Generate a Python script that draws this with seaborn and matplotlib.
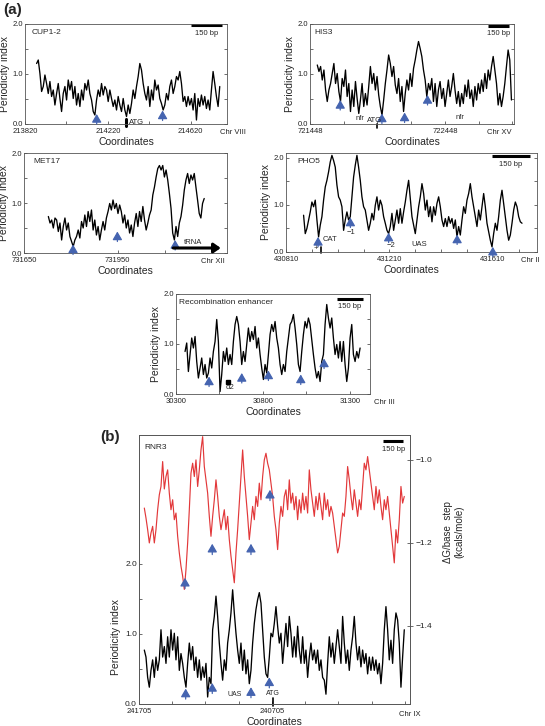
"""
Periodicity index profiles across yeast promoter regions, panels (a) and (b)
"""

import numpy as np
import seaborn as sns
import matplotlib.pyplot as plt

# ---------------- data ----------------
# CUP1-2, Chr VIII
cup_start, cup_end = 213876, 214760
cup_y = [1.21, 1.28, 1.01, 0.65, 0.75, 0.98, 0.81, 0.61, 0.85, 0.55, 0.68, 0.38, 0.61, 0.81, 0.51,
         0.25, 0.61, 0.75, 0.48, 0.88, 0.68, 0.85, 0.51, 0.75, 0.38, 0.61, 0.35, 0.68, 0.48, 0.81,
         0.68, 0.88, 0.61, 0.48, 0.25, 0.18, 0.48, 0.68, 0.55, 0.81, 0.58, 0.75, 0.68, 0.45, 0.68,
         0.51, 0.35, 0.48, 0.28, 0.55, 0.38, 0.25, 0.51, 0.28, 0.15, 0.38, 0.21, 0.41, 0.68, 0.51,
         0.75, 0.95, 1.21, 1.08, 0.81, 0.61, 0.48, 0.75, 0.35, 0.68, 0.48, 0.88, 0.68, 0.78, 0.51,
         0.41, 0.28, 0.38, 0.61, 0.48, 0.75, 0.88, 0.61, 0.75, 0.95, 0.88, 1.05, 0.81, 0.45, 0.55,
         0.35, 0.55, 0.38, 0.51, 0.28, 0.61, 0.08, 0.51, 0.35, 0.58, 0.38, 0.55, 0.31, 0.48, 0.28,
         0.68, 1.05, 0.81, 0.55, 0.35, 0.75]
cup_arrow_x = [214166, 214484]
cup_arrow_tip = [0.20, 0.27]

# HIS3, Chr XV
his_start, his_end = 721502, 722941
his_y = [1.18, 1.05, 1.15, 0.88, 1.08, 0.68, 0.45, 0.68, 0.81, 1.01, 1.21, 0.81, 1.01, 0.65, 0.45,
         0.91, 0.75, 1.08, 0.55, 0.81, 0.25, 0.68, 0.35, 0.85, 0.51, 0.21, 0.48, 0.81, 0.35, 0.61,
         0.38, 0.75, 1.15, 0.81, 1.01, 0.68, 0.95, 0.58, 0.35, 0.18, 0.48, 0.81, 1.08, 1.38, 1.21,
         0.95, 1.15, 0.78, 0.61, 0.91, 0.45, 0.75, 0.25, 0.61, 0.88, 0.68, 1.01, 0.75, 1.11, 1.28,
         1.48, 1.65, 1.51, 1.35, 1.08, 0.88, 0.55, 0.81, 0.68, 0.91, 0.45, 0.81, 0.35, 0.68, 0.85,
         0.51, 0.71, 0.35, 0.61, 0.88, 0.55, 0.75, 1.01, 0.68, 0.41, 0.65, 0.35, 0.61, 0.41, 0.78,
         0.55, 0.88, 0.51, 0.68, 0.35, 0.75, 0.48, 0.81, 0.61, 0.88, 0.65, 1.01, 0.71, 1.08, 0.88,
         1.15, 1.35, 1.08, 0.81, 0.38, 0.61, 0.35, 0.55, 0.81, 1.15, 1.48, 1.28, 0.48]
his_arrow_x = [721672, 721981, 722149, 722319]
his_arrow_tip = [0.48, 0.21, 0.23, 0.58]

# MET17, Chr XII
met_start, met_end = 731728, 732227
met_y = [0.73, 0.60, 0.66, 0.50, 0.70, 0.66, 0.43, 0.60, 0.26, 0.53, 0.70, 0.46, 0.60, 0.33, 0.23,
         0.13, 0.26, 0.33, 0.46, 0.30, 0.63, 0.50, 0.76, 0.53, 0.83, 0.63, 0.86, 0.46, 0.66, 0.36,
         0.53, 0.26, 0.46, 0.63, 0.46, 0.70, 0.83, 0.99, 0.86, 1.06, 0.89, 0.99, 0.79, 0.96, 0.83,
         0.60, 0.76, 0.50, 0.66, 0.40, 0.56, 0.33, 0.60, 0.79, 0.53, 0.83, 0.63, 0.93, 0.66, 0.46,
         0.60, 0.76, 0.86, 1.16, 1.32, 1.52, 1.69, 1.75, 1.66, 1.75, 1.52, 1.66, 1.46, 1.19, 0.89,
         0.40, 0.26, 0.53, 0.33, 0.60, 0.73, 0.96, 1.26, 1.46, 1.59, 1.39, 1.56, 1.46, 1.59, 1.32,
         1.06, 0.79, 0.70, 0.99, 1.09]
met_arrow_x = [731807, 731949, 732134]
met_arrow_tip = [0.17, 0.43, 0.26]

# PHO5, Chr II
pho_start, pho_end = 430878, 431723
pho_y = [0.78, 0.39, 0.50, 0.68, 0.85, 1.06, 0.96, 1.10, 0.68, 0.32, 0.57, 0.75, 1.10, 1.38, 1.52,
         1.70, 1.91, 2.05, 1.94, 1.80, 1.42, 1.17, 1.10, 0.96, 0.46, 0.68, 0.85, 0.68, 0.75, 1.17,
         1.59, 1.84, 2.05, 1.80, 1.52, 1.17, 0.96, 0.89, 0.68, 0.46, 0.61, 0.82, 0.68, 0.99, 1.17,
         0.89, 1.10, 0.99, 0.75, 0.61, 0.46, 0.39, 0.54, 0.82, 0.46, 0.68, 0.89, 0.61, 0.92, 0.61,
         0.85, 1.06, 1.31, 1.52, 1.13, 0.75, 0.57, 0.39, 0.68, 0.96, 1.17, 1.45, 1.24, 0.89, 1.10,
         0.75, 0.96, 0.64, 0.96, 0.78, 1.03, 1.17, 0.96, 0.68, 0.54, 0.71, 0.54, 0.75, 0.61, 0.71,
         0.50, 0.68, 0.32, 0.54, 0.36, 0.68, 0.96, 0.82, 1.10, 1.24, 1.45, 1.17, 0.96, 0.75, 0.54,
         0.89, 0.68, 0.96, 1.24, 0.96, 0.61, 0.43, 0.25, 0.11, 0.39, 0.61, 0.46, 0.75, 1.10, 1.31,
         1.03, 0.75, 0.46, 0.25, 0.36, 0.61, 0.89, 1.06, 0.96, 0.75, 0.64, 0.61]
pho_arrow_x = [430934, 431059, 431207, 431472, 431610]
pho_arrow_tip = [0.32, 0.73, 0.41, 0.37, 0.11]

# Recombination enhancer, Chr III
re_start, re_end = 30352, 31358
re_y = [0.85, 1.02, 0.45, 0.79, 1.12, 0.92, 1.15, 0.65, 0.32, 0.52, 0.72, 0.39, 0.59, 0.32, 0.42,
        0.72, 0.52, 0.85, 1.05, 1.49, 1.05, 0.05, 0.39, 0.85, 0.65, 0.92, 0.59, 0.79, 0.59, 1.05,
        1.39, 1.55, 1.39, 1.05, 0.59, 0.85, 0.65, 0.99, 1.32, 1.05, 1.25, 1.09, 1.35, 0.92, 1.12,
        0.79, 0.52, 0.29, 0.59, 0.42, 0.79, 1.19, 1.39, 1.25, 1.45, 1.12, 0.92, 0.59, 0.39, 0.59,
        0.45, 0.85, 1.12, 1.39, 1.45, 1.59, 1.32, 0.99, 0.59, 0.45, 0.85, 1.19, 1.45, 1.32, 1.52,
        1.39, 1.09, 0.79, 0.52, 0.32, 0.45, 0.25, 0.65, 0.79, 1.39, 1.79, 1.52, 1.32, 1.52, 1.12,
        0.79, 0.99, 0.72, 1.05, 0.65, 1.05, 0.59, 0.25, 0.52, 1.12, 1.39, 0.79, 0.65, 0.85, 0.72,
        0.92]
re_arrow_x = [30490, 30678, 30831, 31017, 31151]
re_arrow_tip = [0.35, 0.42, 0.47, 0.39, 0.71]

# RNR3, Chr IX (coordinates run right to left)
rnr_start, rnr_end = 241665, 239710
rnr_dg = [-1.116, -1.14, -1.168, -1.20, -1.176, -1.16, -1.20, -1.168, -1.12, -1.084, -1.064, -1.004,
          -1.07, -1.04, -1.024, -1.08, -1.12, -1.096, -1.144, -1.128, -1.184, -1.224, -1.256, -1.28,
          -1.312, -1.264, -1.20, -1.12, -1.032, -1.008, -1.04, -1.0, -1.064, -1.024, -0.976, -0.944,
          -1.016, -1.048, -1.08, -1.136, -1.184, -1.136, -1.096, -1.048, -1.088, -1.136, -1.168,
          -1.144, -1.12, -1.168, -1.136, -1.192, -1.232, -1.264, -1.296, -1.224, -1.168, -1.104,
          -1.04, -0.976, -1.04, -1.088, -1.136, -1.192, -1.152, -1.112, -1.144, -1.088, -1.112,
          -1.056, -1.096, -1.04, -1.0, -0.984, -1.008, -1.024, -1.056, -1.088, -1.136, -1.168,
          -1.216, -1.152, -1.112, -1.136, -1.088, -1.072, -1.12, -1.048, -1.104, -1.08, -1.12,
          -1.088, -1.144, -1.096, -1.128, -1.08, -1.12, -1.088, -1.128, -1.024, -1.072, -1.104,
          -1.136, -1.088, -1.12, -1.08, -1.112, -1.144, -1.08, -1.12, -1.096, -1.136, -1.112,
          -1.128, -1.16, -1.192, -1.224, -1.208, -1.168, -1.128, -1.136, -1.088, -1.016, -1.048,
          -1.088, -1.12, -1.072, -1.104, -1.136, -1.096, -1.12, -1.064, -1.008, -1.024, -0.992,
          -1.024, -1.056, -1.088, -1.12, -1.064, -1.104, -1.072, -1.112, -1.144, -1.096, -1.12,
          -1.088, -1.128, -1.168, -1.208, -1.248, -1.168, -1.20, -1.144, -1.064, -1.104, -1.088]
rnr_pi = [0.77, 0.67, 0.38, 0.24, 0.48, 0.63, 0.38, 0.67, 0.48, 0.63, 1.06, 0.67, 0.82, 0.58, 0.96,
          0.67, 1.06, 0.77, 1.01, 0.63, 0.96, 0.48, 0.72, 0.58, 0.38, 0.24, 0.58, 0.87, 0.63, 0.82,
          0.48, 0.67, 0.38, 0.63, 0.34, 0.53, 0.38, 0.58, 0.10, 0.38, 0.29, 1.06, 1.25, 1.54, 1.25,
          0.87, 0.58, 0.34, 0.63, 0.48, 0.87, 1.06, 1.30, 1.63, 1.30, 1.01, 0.77, 0.58, 0.87, 0.48,
          0.77, 0.43, 0.63, 0.29, 0.48, 0.87, 1.15, 1.35, 1.49, 1.59, 1.44, 1.06, 0.67, 0.43, 0.38,
          0.67, 1.01, 0.96, 1.15, 1.39, 1.11, 0.87, 1.01, 0.58, 0.87, 1.15, 0.82, 1.25, 1.01, 0.67,
          0.96, 0.67, 1.11, 0.77, 0.58, 0.96, 0.58, 0.77, 0.38, 0.67, 0.87, 0.63, 0.77, 0.58, 0.77,
          0.48, 0.63, 0.38, 0.34, 0.14, 0.58, 0.96, 0.67, 0.87, 0.58, 0.82, 1.06, 0.82, 0.58, 1.25,
          0.87, 0.58, 0.77, 0.48, 0.77, 0.96, 1.25, 0.87, 0.63, 0.82, 0.53, 0.77, 0.58, 0.72, 0.43,
          0.67, 0.48, 0.67, 0.48, 0.63, 0.43, 0.58, 0.29, 0.58, 1.06, 1.39, 1.06, 0.63, 0.91, 0.58,
          1.06, 1.30, 1.20, 0.87, 0.24, 0.67, 1.06]
rnr_dg_arrow_x = [241359, 241154, 240863, 240720]
rnr_dg_arrow_tip = [-1.284, -1.202, -1.202, -1.072]
rnr_pi_arrow_x = [241354, 241154, 240863, 240725]
rnr_pi_arrow_tip = [0.22, 0.30, 0.24, 0.38]

BLUE = "#4564b0"
RED = "#e2383a"
SPINE = "#555555"

sns.set_style("ticks")
plt.rcParams["font.family"] = ["Liberation Sans", "DejaVu Sans"]
plt.rcParams["axes.linewidth"] = 0.6
plt.rcParams["axes.edgecolor"] = SPINE

W, H = 545, 726
fig = plt.figure(figsize=(W / 100, H / 100), dpi=100)


def px_axes(left, top, right, bottom):
    return fig.add_axes([left / W, 1 - bottom / H, (right - left) / W, (bottom - top) / H])


def arrows(ax, xs, tips, length, lw=0.9, scale=9):
    for x, t in zip(xs, tips):
        ax.annotate("", xy=(x, t), xytext=(x, t - length),
                    arrowprops=dict(arrowstyle="-|>,head_length=0.55,head_width=0.32",
                                    color=BLUE, lw=lw, shrinkA=0, shrinkB=0,
                                    mutation_scale=scale))


def scale_bar(ax, x_right, y, bp=150, reverse=False):
    x_left = x_right + bp if reverse else x_right - bp
    ax.plot([x_left, x_right], [y, y], color="black", lw=2.2, solid_capstyle="butt")
    ax.text((x_left + x_right) / 2, y, "\n150 bp", ha="center", va="top", fontsize=5.5,
            linespacing=0.5)


def trace(ax, start, end, y, color="black", lw=0.95):
    xs = np.linspace(start, end, len(y))
    sns.lineplot(x=xs, y=y, ax=ax, color=color, lw=lw)


def style(ax, xlim, ylim, xticks, xlabels, chr_label, chr_x, chr_ha, name, name_x,
          yticks=(0, 0.5, 1.0, 1.5, 2.0)):
    ax.set_xlim(*xlim)
    ax.set_ylim(*ylim)
    ax.set_xticks(xticks)
    ax.set_xticklabels(xlabels, fontsize=5.5)
    ax.set_yticks(yticks)
    ax.set_yticklabels(["0.0" if v == 0 else ("%.1f" % v if v in (1.0, 2.0) else "")
                        for v in yticks], fontsize=5.5)
    ax.tick_params(direction="in", length=2.5, width=0.6, right=True, colors=SPINE,
                   labelcolor="#222222")
    ax.tick_params(axis="x", pad=3)
    ax.tick_params(axis="y", pad=1.5)
    ax.set_xlabel("Coordinates", fontsize=7.5, labelpad=1.5)
    ax.set_ylabel("Periodicity index", fontsize=7.5, labelpad=2)
    ax.text(chr_x, -0.05, chr_label, transform=ax.transAxes, ha=chr_ha, va="top",
            fontsize=5.5, color="#222222")
    ax.text(name_x, 0.95, name, transform=ax.transAxes, ha="left", va="top", fontsize=6)


# ---------------- CUP1-2 ----------------
ax = px_axes(25, 24, 227, 124)
trace(ax, cup_start, cup_end, cup_y)
style(ax, (213820, 214795), (0, 2.0), [213820, 214020, 214220, 214420, 214620],
      ["213820", "", "214220", "", "214620"], "Chr VIII", 1.03, "center", "CUP1-2", 0.035)
arrows(ax, cup_arrow_x, cup_arrow_tip, 0.2)
ax.plot([214307, 214307], [-0.03, 0.1], color="black", lw=2.2, clip_on=False)
ax.text(214322, 0.04, "ATG", fontsize=5.5, va="center", ha="left")
scale_bar(ax, 214770, 1.97)

# ---------------- HIS3 ----------------
ax = px_axes(310, 24, 514, 124)
trace(ax, his_start, his_end, his_y)
style(ax, (721448, 722960), (0, 2.0),
      [721448, 721698, 721948, 722198, 722448, 722698, 722948],
      ["721448", "", "", "", "722448", "", ""], "Chr XV", 0.99, "right", "HIS3", 0.02)
arrows(ax, his_arrow_x, his_arrow_tip, 0.2)
ax.text(721820, 0.11, "nfr", fontsize=5.5, ha="center", va="center")
ax.text(722560, 0.13, "nfr", fontsize=5.5, ha="center", va="center")
ax.text(721929, 0.07, "ATG", fontsize=5.5, ha="center", va="center")
ax.plot([721944, 721944], [-0.07, 0.0], color="black", lw=1.2, clip_on=False)
scale_bar(ax, 722920, 1.96)

# ---------------- MET17 ----------------
ax = px_axes(24, 153, 227, 253)
trace(ax, met_start, met_end, met_y)
style(ax, (731650, 732300), (0, 2.0), [731650, 731800, 731950, 732100, 732250],
      ["731650", "", "731950", "", ""], "Chr XII", 0.99, "right", "MET17", 0.045)
arrows(ax, met_arrow_x, met_arrow_tip, 0.2)
ax.annotate("", xy=(732280, 0.1), xytext=(732128, 0.1),
            arrowprops=dict(arrowstyle="-|>,head_length=0.5,head_width=0.35", color="black",
                            lw=2.2, shrinkA=0, shrinkB=0, mutation_scale=8))
ax.text(732190, 0.15, "tRNA", fontsize=5.5, ha="center", va="bottom")

# ---------------- PHO5 ----------------
ax = px_axes(286, 153, 537, 252)
trace(ax, pho_start, pho_end, pho_y)
style(ax, (430810, 431781), (0, 2.1),
      [430810, 430910, 431010, 431110, 431210, 431310, 431410, 431510, 431610, 431710],
      ["430810", "", "", "", "431210", "", "", "", "431610", ""], "Chr II", 1.01, "right",
      "PHO5", 0.044)
arrows(ax, pho_arrow_x, pho_arrow_tip, 0.21)
ax.text(431062, 0.48, "\u22121", fontsize=5.5, ha="center", va="top")
ax.text(431216, 0.21, "\u22122", fontsize=5.5, ha="center", va="top")
ax.text(431324, 0.16, "UAS", fontsize=5.5, ha="center", va="center")
ax.text(430950, 0.27, "CAT", fontsize=5.5, ha="left", va="center")
ax.text(430926, 0.07, "+", fontsize=5.5, ha="center", va="center")
ax.plot([430947, 430947], [-0.03, 0.11], color="black", lw=1.2, clip_on=False)
scale_bar(ax, 431755, 2.03)

# ---------------- Recombination enhancer ----------------
ax = px_axes(176, 294, 370, 394)
trace(ax, re_start, re_end, re_y)
style(ax, (30300, 31415), (0, 2.0), [30300, 30550, 30800, 31050, 31300],
      ["30300", "", "30800", "", "31300"], "Chr III", 1.02, "left",
      "Recombination enhancer", 0.015)
arrows(ax, re_arrow_x, re_arrow_tip, 0.2)
ax.plot([30601], [0.24], marker="s", color="black", ms=2.5)
ax.text(30611, 0.14, "\u03b12", fontsize=5.5, ha="center", va="center")
scale_bar(ax, 31373, 1.91)

# ---------------- (b) RNR3 ----------------
ax = px_axes(139, 435, 410, 704)
ax2 = ax.twinx()
trace(ax, rnr_start, rnr_end, rnr_pi)
trace(ax2, rnr_start, rnr_end, rnr_dg, color=RED, lw=0.85)
ax.set_xlim(241705, 239667)
ax.set_ylim(0, 3.84)
ax2.set_ylim(-1.588, -0.94)
ax.set_xticks([241705 - 250 * i for i in range(9)])
ax.set_xticklabels(["241705", "", "", "", "240705", "", "", "", ""], fontsize=5.5)
ax.set_yticks([0, 0.5, 1.0, 1.5, 2.0])
ax.set_yticklabels(["0.0", "", "1.0", "", "2.0"], fontsize=6)
ax2.set_yticks([-1.0, -1.2, -1.4])
ax2.set_yticklabels(["\u22121.0", "\u22121.2", "\u22121.4"], fontsize=6)
ax.tick_params(direction="in", length=2.5, width=0.6, colors=SPINE, labelcolor="#222222")
ax.tick_params(axis="x", pad=3)
ax.tick_params(axis="y", pad=1.5)
ax2.tick_params(direction="inout", length=4, width=0.6, pad=2, colors=SPINE, labelcolor="#222222")
ax.set_xlabel("Coordinates", fontsize=7.5, labelpad=1.5)
ax.set_ylabel("Periodicity index", fontsize=7.5, labelpad=3, y=0.25)
ax2.set_ylabel("\u0394G/base  step\n(kcals/mole)", fontsize=7, labelpad=8, y=0.64,
               linespacing=1.1)
ax.text(1.0, -0.025, "Chr IX", transform=ax.transAxes, ha="center", va="top", fontsize=5.5,
        color="#222222")
ax.text(0.02, 0.965, "RNR3", transform=ax.transAxes, ha="left", va="top", fontsize=6)
arrows(ax, rnr_pi_arrow_x, rnr_pi_arrow_tip, 0.15)
arrows(ax2, rnr_dg_arrow_x, rnr_dg_arrow_tip, 0.026)
ax.text(240983, 0.14, "UAS", fontsize=5, ha="center", va="center")
ax.text(240695, 0.1, "ATG", fontsize=5, ha="center", va="bottom")
ax.plot([240695, 240695], [-0.03, 0.08], color="black", lw=1.2, clip_on=False)
scale_bar(ax, 239717, 3.75, reverse=True)

fig.text(3 / W, 1 - 10 / H, "(a)", fontsize=11, fontweight="bold", va="center")
fig.text(100 / W, 1 - 437 / H, "(b)", fontsize=11, fontweight="bold", va="center")

fig.savefig("out.png", dpi=100)
